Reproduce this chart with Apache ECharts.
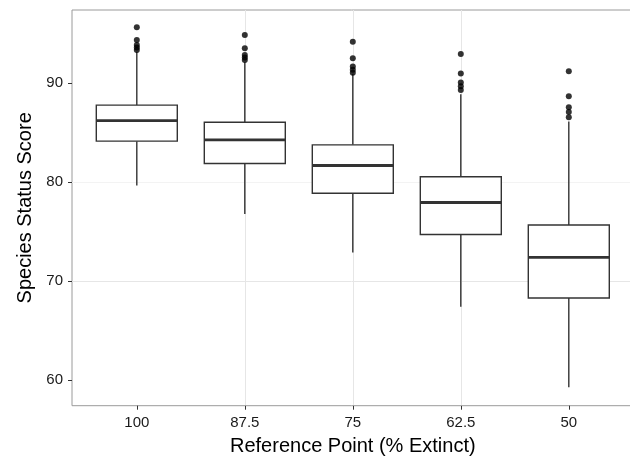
<!DOCTYPE html>
<html>
<head>
<meta charset="utf-8">
<script src="https://cdn.jsdelivr.net/npm/echarts@6/dist/echarts.min.js"></script>
<style>
  html, body { margin: 0; padding: 0; background: #fff; }
  #box1 { width: 630px; height: 459px; }
</style>
</head>
<body>
<div id="box1"></div>
<script>
const categories = ['100', '87.5', '75', '62.5', '50'];
const lowerWhisker = [79.66, 76.77, 72.89, 67.39, 59.26];
const q1 = [84.14, 81.88, 78.88, 74.71, 68.28];
const median = [86.22, 84.27, 81.68, 77.94, 72.39];
const q3 = [87.78, 86.06, 83.77, 80.54, 75.66];
const upperWhisker = [93.19, 92.12, 90.95, 88.89, 86.12];
const outliers = [
    [95.66, 94.37, 93.87, 93.62, 93.36],
    [94.88, 93.54, 92.86, 92.6, 92.35],
    [94.2, 92.53, 91.68, 91.35, 91.05],
    [92.96, 90.97, 90.06, 89.7, 89.32],
    [91.21, 88.69, 87.58, 87.1, 86.57],
];
const yTicks = [60, 70, 80, 90];

const sFont = '"Liberation Sans", Helvetica, Arial, sans-serif';
const sLine = '#333333';

// 箱体数据：[x, 下须, Q1, 中位数, Q3, 上须]
const aBoxData = categories.map((cur, idx) => {
    return [idx, lowerWhisker[idx], q1[idx], median[idx], q3[idx], upperWhisker[idx]];
});
const aOutlierData = [];
outliers.forEach((arr, idx) => {
    arr.forEach(val => aOutlierData.push([idx, val]));
});

function renderBox(params, api) {
    const x = api.value(0);
    const pLo = api.coord([x, api.value(1)]);
    const pQ1 = api.coord([x, api.value(2)]);
    const pMed = api.coord([x, api.value(3)]);
    const pQ3 = api.coord([x, api.value(4)]);
    const pHi = api.coord([x, api.value(5)]);
    const half = api.size([0.75, 0])[0] / 2;
    const style = { stroke: sLine, lineWidth: 1.4, fill: null };
    return {
        type: 'group',
        children: [
            { type: 'line', shape: { x1: pHi[0], y1: pHi[1], x2: pQ3[0], y2: pQ3[1] }, style },
            { type: 'line', shape: { x1: pQ1[0], y1: pQ1[1], x2: pLo[0], y2: pLo[1] }, style },
            {
                type: 'rect',
                shape: { x: pQ3[0] - half, y: pQ3[1], width: half * 2, height: pQ1[1] - pQ3[1] },
                style: { stroke: sLine, lineWidth: 1.4, fill: '#fff' },
            },
            {
                type: 'line',
                shape: { x1: pMed[0] - half, y1: pMed[1], x2: pMed[0] + half, y2: pMed[1] },
                style: { stroke: sLine, lineWidth: 2.8 },
            },
        ],
    };
}

const myChart = echarts.init(document.getElementById('box1'), null, { renderer: 'canvas' });
const option = {
    animation: false,
    backgroundColor: '#fff',
    textStyle: { fontFamily: sFont },
    grid: {
        left: 72,
        top: 10,
        width: 561.6,
        height: 395.7,
        show: true,
        borderColor: '#9a9a9a',
        borderWidth: 1,
        backgroundColor: 'transparent',
        containLabel: false,
        outerBoundsMode: 'none',
    },
    xAxis: {
        type: 'value',
        min: -0.6,
        max: 4.6,
        minInterval: 1,
        maxInterval: 1,
        name: 'Reference Point (% Extinct)',
        nameLocation: 'middle',
        nameGap: 31,
        nameTextStyle: { fontSize: 20, color: '#000', fontFamily: sFont },
        axisLine: { show: false, onZero: false },
        axisTick: {
            show: true, length: 4, customValues: [0, 1, 2, 3, 4],
            lineStyle: { color: sLine, width: 1 },
        },
        axisLabel: {
            customValues: [0, 1, 2, 3, 4],
            margin: 10,
            fontSize: 15,
            color: '#1a1a1a',
            fontFamily: sFont,
            formatter: val => categories[Math.round(val)] ?? '',
        },
        splitLine: {
            show: true, showMinLine: false, showMaxLine: false,
            lineStyle: { color: '#e6e6e6', width: 1 },
        },
    },
    yAxis: {
        type: 'value',
        min: 57.4,
        max: 97.4,
        minInterval: 5,
        maxInterval: 5,
        name: 'Species Status Score',
        nameLocation: 'middle',
        nameGap: 37,
        nameTextStyle: { fontSize: 20, color: '#000', fontFamily: sFont },
        axisLine: { show: false, onZero: false },
        axisTick: {
            show: true, length: 4, customValues: yTicks,
            lineStyle: { color: sLine, width: 1 },
        },
        axisLabel: {
            customValues: yTicks,
            margin: 9,
            fontSize: 15,
            color: '#1a1a1a',
            fontFamily: sFont,
        },
        splitLine: {
            show: true, showMinLine: false, showMaxLine: false,
            lineStyle: { color: ['#e6e6e6', '#f3f3f3'], width: 1 },
        },
    },
    series: [
        {
            name: 'box',
            type: 'custom',
            renderItem: renderBox,
            encode: { x: 0, y: [1, 2, 3, 4, 5] },
            data: aBoxData,
            z: 2,
        },
        {
            name: 'outlier',
            type: 'scatter',
            symbol: 'circle',
            symbolSize: 6,
            itemStyle: { color: '#000' },
            data: aOutlierData,
            z: 3,
        },
    ],
};
myChart.setOption(option);
</script>
</body>
</html>
